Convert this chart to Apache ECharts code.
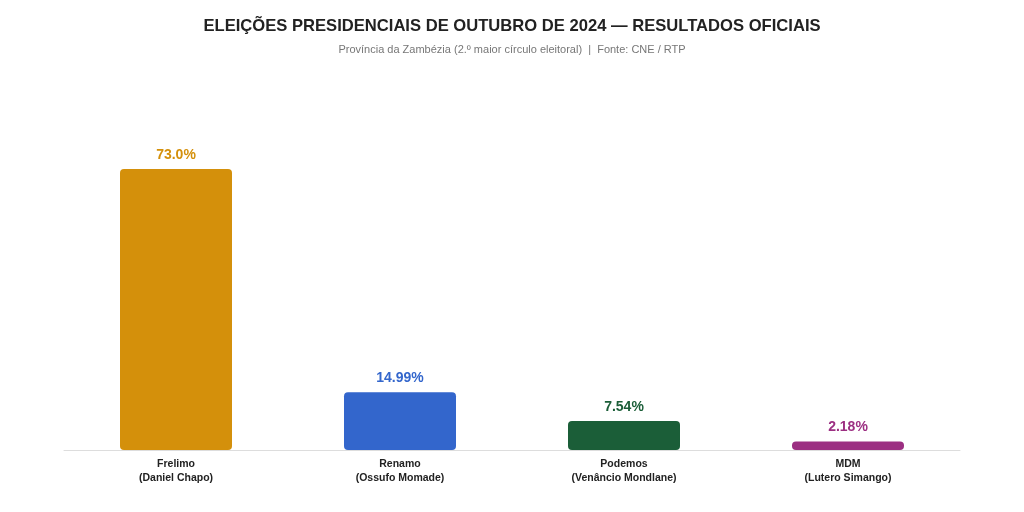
<!DOCTYPE html>
<html>
<head>
<meta charset="utf-8">
<script src="https://cdn.jsdelivr.net/npm/echarts@6/dist/echarts.min.js"></script>
<style>
  html, body { margin: 0; padding: 0; background: #fff; }
  #chart { width: 1024px; height: 512px; }
</style>
</head>
<body>
<div id="chart"></div>
<script>
// dados
const partidos = ['Frelimo', 'Renamo', 'Podemos', 'MDM']
const candidatos = ['Daniel Chapo', 'Ossufo Momade', 'Venâncio Mondlane', 'Lutero Simango']
const percentagens = [73.0, 14.99, 7.54, 2.18]
const rotulos = ['73.0%', '14.99%', '7.54%', '2.18%']
const cores = ['#D4900B', '#3366CC', '#1B5E38', '#9C2F82']

const categorias = partidos.map((p, i) => p + '\n(' + candidatos[i] + ')')

const chart = echarts.init(document.getElementById('chart'))

chart.setOption({
  backgroundColor: '#fff',
  animation: false,
  textStyle: { fontFamily: 'Liberation Sans, Arial, sans-serif' },
  title: {
    text: 'ELEIÇÕES PRESIDENCIAIS DE OUTUBRO DE 2024 — RESULTADOS OFICIAIS',
    subtext: 'Província da Zambézia (2.º maior círculo eleitoral)  |  Fonte: CNE / RTP',
    left: 'center',
    top: 13,
    itemGap: 9,
    textStyle: { fontSize: 16.6, fontWeight: 'bold', color: '#222' },
    subtextStyle: { fontSize: 11, color: '#777' }
  },
  grid: { left: 64, right: 64, top: 142, bottom: 62 },
  xAxis: {
    type: 'category',
    data: categorias,
    axisLine: { lineStyle: { color: '#dddddd' } },
    axisTick: { show: false },
    axisLabel: {
      color: '#222',
      fontSize: 10.5,
      fontWeight: 'bold',
      lineHeight: 14,
      margin: 7
    }
  },
  yAxis: {
    type: 'value',
    min: 0,
    max: 80,
    show: false,
    splitLine: { show: false }
  },
  series: [{
    type: 'bar',
    barWidth: '50%',
    data: percentagens.map((v, i) => ({
      value: v,
      itemStyle: { color: cores[i], borderRadius: 4 },
      label: { color: cores[i] }
    })),
    label: {
      show: true,
      position: 'top',
      distance: 7,
      fontSize: 14,
      fontWeight: 'bold',
      formatter: p => rotulos[p.dataIndex]
    }
  }]
})
</script>
</body>
</html>
